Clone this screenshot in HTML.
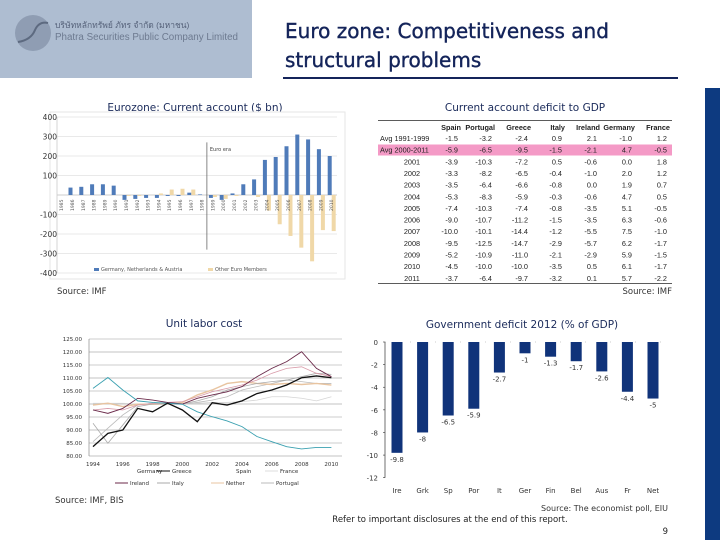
<!DOCTYPE html>
<html><head><meta charset="utf-8">
<style>
body{margin:0;width:720px;height:540px;overflow:hidden;background:#fff;font-family:"DejaVu Sans","Liberation Sans","Noto Sans CJK SC",sans-serif;}
svg{position:absolute;left:0;top:0}
</style></head>
<body>
<svg id="s" width="720" height="540" xmlns="http://www.w3.org/2000/svg">
<rect x="0" y="0" width="252" height="78" fill="#aebdd1"/>
<circle cx="33" cy="33" r="18" fill="#8f9db3"/>
<path d="M18 42 Q31 40 35 30 Q39 21 48 23" stroke="#5d6a80" stroke-width="2" fill="none"/>
<text x="55" y="28" font-size="8.5" fill="#56627a" font-family="Liberation Sans, Noto Sans CJK SC, sans-serif">บริษัทหลักทรัพย์ ภัทร จำกัด (มหาชน)</text>
<text x="55" y="40" font-size="9.8" fill="#6d7a90" font-family="Liberation Sans, sans-serif">Phatra Securities Public Company Limited</text>
<text x="285" y="38" font-size="20" fill="#14245a" stroke="#14245a" stroke-width="0.4">Euro zone: Competitiveness and</text>
<text x="285" y="67" font-size="20" fill="#14245a" stroke="#14245a" stroke-width="0.4">structural problems</text>
<rect x="283" y="77" width="395" height="2" fill="#14245a"/>
<rect x="705" y="88" width="15" height="452" fill="#0d3a80"/>

<text x="195" y="111" font-size="10.5" fill="#1a2a5a" text-anchor="middle">Eurozone: Current account ($ bn)</text>
<g id="ca"></g>
<text x="57" y="294" font-size="8.5" fill="#333">Source: IMF</text>

<text x="525" y="111" font-size="10.5" fill="#1a2a5a" text-anchor="middle">Current account deficit to GDP</text>
<g id="tbl"></g>
<text x="672" y="294" font-size="8.5" fill="#333" text-anchor="end">Source: IMF</text>

<text x="204" y="327" font-size="10.5" fill="#1a2a5a" text-anchor="middle">Unit labor cost</text>
<g id="ulc"></g>
<text x="55" y="503" font-size="8.5" fill="#333">Source: IMF, BIS</text>

<text x="522" y="328" font-size="10.5" fill="#1a2a5a" text-anchor="middle">Government deficit 2012 (% of GDP)</text>
<g id="gd"></g>
<text x="668" y="511" font-size="8" fill="#333" text-anchor="end">Source: The economist poll, EIU</text>
<text x="450" y="522" font-size="8.5" fill="#222" text-anchor="middle">Refer to important disclosures at the end of this report.</text>
<text x="668" y="534" font-size="8.5" fill="#222" text-anchor="end">9</text>
</svg>
<script>
const NS="http://www.w3.org/2000/svg";
function mk(p,t,a){const e=document.createElementNS(NS,t);for(const k in a)e.setAttribute(k,a[k]);p.appendChild(e);return e;}

// ---- Current account chart data
const caYears=[1985,1986,1987,1988,1989,1990,1991,1992,1993,1994,1995,1996,1997,1998,1999,2000,2001,2002,2003,2004,2005,2006,2007,2008,2009,2010];
const caCore=[0,38,42,55,55,48,-25,-20,-15,-15,-5,-5,12,3,-15,-25,8,55,80,180,195,250,310,285,235,200];
const caOther=[0,0,0,0,0,0,-5,-5,0,8,28,32,28,0,-10,-20,-5,0,-10,-80,-150,-210,-270,-340,-180,-185];
const caTicks=[400,300,200,100,-100,-200,-300,-400];

// ---- Table data
const tblCols=["Spain","Portugal","Greece","Italy","Ireland","Germany","France"];
const tblRows=["Avg 1991-1999","Avg 2000-2011","2001","2002","2003","2004","2005","2006","2007","2008","2009","2010","2011"];
const tblVals=[
["-1.5","-3.2","-2.4","0.9","2.1","-1.0","1.2"],
["-5.9","-6.5","-9.5","-1.5","-2.1","4.7","-0.5"],
["-3.9","-10.3","-7.2","0.5","-0.6","0.0","1.8"],
["-3.3","-8.2","-6.5","-0.4","-1.0","2.0","1.2"],
["-3.5","-6.4","-6.6","-0.8","0.0","1.9","0.7"],
["-5.3","-8.3","-5.9","-0.3","-0.6","4.7","0.5"],
["-7.4","-10.3","-7.4","-0.8","-3.5","5.1","-0.5"],
["-9.0","-10.7","-11.2","-1.5","-3.5","6.3","-0.6"],
["-10.0","-10.1","-14.4","-1.2","-5.5","7.5","-1.0"],
["-9.5","-12.5","-14.7","-2.9","-5.7","6.2","-1.7"],
["-5.2","-10.9","-11.0","-2.1","-2.9","5.9","-1.5"],
["-4.5","-10.0","-10.0","-3.5","0.5","6.1","-1.7"],
["-3.7","-6.4","-9.7","-3.2","0.1","5.7","-2.2"]];

// ---- Unit labor cost data (1994-2010)
const ulcYears=[1994,1995,1996,1997,1998,1999,2000,2001,2002,2003,2004,2005,2006,2007,2008,2009,2010];
const ulcGermany=[106,110.2,105.4,101.2,100.6,100.3,99.9,97,95.1,93.5,91.3,87.5,85.5,83.6,82.7,83.3,83.3];
const ulcGreece=[83.6,88.7,90,98.3,97,100.3,97.7,93.2,100.5,99.6,101.2,104,105.4,107.3,110.1,110.8,110.1];
const ulcSpain=[97.7,98.3,97.7,99.6,100.3,100.6,100.9,102.8,104.7,106,107.3,109.2,111.8,113.7,114.3,111.8,110.5];
const ulcFrance=[100.3,100.3,100.3,99.9,100,99.9,99.9,100.3,100.6,100.6,100.9,101.5,102.8,102.8,102.2,101.2,102.8];
const ulcIreland=[97.7,96.4,98.3,102.2,101.5,100.6,100,102.2,103.5,104.7,106.7,110.5,113.7,116.3,120.1,113.7,110.5];
const ulcItaly=[92.6,84.9,91.9,99,100,100,100,101.2,102.8,105.4,106.7,107.9,108.6,109.2,110.5,111.8,111.4];
const ulcNether=[99.6,100.3,99,99.9,99.9,100.1,100.6,103.5,105.4,107.9,108.6,107.9,107.5,107.9,107.5,107.9,107.3];
const ulcPortugal=[85.5,90.7,95.8,99.6,100.3,100.1,99.9,100.6,101.5,102.8,105.4,106.7,107.9,109.2,108.6,107.9,107.9];
const ulcTicks=[125,120,115,110,105,100,95,90,85,80];
const ulcXTicks=[1994,1996,1998,2000,2002,2004,2006,2008,2010];

// ---- Government deficit data
const gdCats=["Ire","Grk","Sp","Por","It","Ger","Fin","Bel","Aus","Fr","Net"];
const gdVals=[-9.8,-8,-6.5,-5.9,-2.7,-1,-1.3,-1.7,-2.6,-4.4,-5];
const gdTicks=[0,-2,-4,-6,-8,-10,-12];

// ===== Current account chart
(function(){
 const g=document.getElementById('ca');
 const y=v=>195-v*(156/800);
 const x=i=>61.7+i*10.8;
 mk(g,'rect',{x:50,y:112,width:295,height:167,fill:'none',stroke:'#e6e6e6'});
 caTicks.forEach(t=>{
  const l=mk(g,'line',{x1:57,x2:337,y1:y(t),y2:y(t),stroke:'#e2e2e2','stroke-width':0.8});
  
  
  const tx=mk(g,'text',{x:57,y:y(t)+3,'font-size':7.5,fill:'#333','text-anchor':'end'});tx.textContent=t;
  
  
 });
 mk(g,'line',{x1:57,x2:337,y1:y(0),y2:y(0),stroke:'#bbb','stroke-width':0.8});
 mk(g,'line',{x1:57,x2:57,y1:y(400),y2:y(-400),stroke:'#ccc','stroke-width':0.8});
 caYears.forEach((yr,i)=>{
  const b1=caCore[i],b2=caOther[i];
  const r1=mk(g,'rect',{x:x(i)-4,y:Math.min(y(0),y(b1)),width:4,height:Math.abs(y(b1)-y(0)),fill:'#4f7bb9'});
  
  
  const r2=mk(g,'rect',{x:x(i),y:Math.min(y(0),y(b2)),width:4,height:Math.abs(y(b2)-y(0)),fill:'#f0d8a8'});
  
  
  const t=mk(g,'text',{x:0,y:0,'font-size':4.5,fill:'#555',transform:`translate(${x(i)+1.5},${y(0)+16}) rotate(-90)`});t.textContent=yr;
  
  
 });
 mk(g,'line',{x1:x(14)-6,x2:x(14)-6,y1:y(270),y2:y(-280),stroke:'#555','stroke-width':0.7});
 const ea=mk(g,'text',{x:x(14)-3,y:y(225),'font-size':5,fill:'#444'});ea.textContent='Euro era';
 
 
 mk(g,'rect',{x:94,y:268,width:5,height:3,fill:'#4f7bb9'});
 const l1=mk(g,'text',{x:101,y:271,'font-size':5,fill:'#555'});l1.textContent='Germany, Netherlands & Austria';
 
 
 mk(g,'rect',{x:208,y:268,width:5,height:3,fill:'#f0d8a8'});
 const l2=mk(g,'text',{x:215,y:271,'font-size':5,fill:'#555'});l2.textContent='Other Euro Members';
 
 
})();

// ===== Table
(function(){
 const g=document.getElementById('tbl');
 const colR=[461,495,531,565,600,635,670];
 const rowY=i=>141+i*11.65;
 const F='Liberation Sans, sans-serif';
 mk(g,'rect',{x:378,y:120,width:294,height:0.8,fill:'#333'});
 mk(g,'rect',{x:378,y:283,width:294,height:0.8,fill:'#333'});
 mk(g,'rect',{x:378,y:144.5,width:294,height:11,fill:'#f49ac6'});
 tblCols.forEach((c,j)=>{const t=mk(g,'text',{x:colR[j],y:130,'font-size':7.3,'font-weight':'bold',fill:'#222','text-anchor':'end','font-family':F});t.textContent=c;
  
  });
 tblRows.forEach((r,i)=>{
  const t=mk(g,'text',{x:i<2?380:412,y:rowY(i),'font-size':7.3,fill:'#222','text-anchor':i<2?'start':'middle','font-family':F});t.textContent=r;
  
  
  tblVals[i].forEach((v,j)=>{const c=mk(g,'text',{x:colR[j]-3,y:rowY(i),'font-size':7.3,fill:'#222','text-anchor':'end','font-family':F});c.textContent=v;
   
   });
 });
})();

// ===== Unit labor cost
(function(){
 const g=document.getElementById('ulc');
 const y=v=>(315+267/3)-(v-100)*(13/5);
 const x=yr=>93+(yr-1994)*14.9;
 ulcTicks.forEach(t=>{
  const l=mk(g,'line',{x1:89,x2:342,y1:y(t),y2:y(t),stroke:t%10===0?'#888':'#999','stroke-width':0.6});
  
  
  const tx=mk(g,'text',{x:82,y:y(t)+2,'font-size':5.5,fill:'#333','text-anchor':'end'});tx.textContent=t.toFixed(2);
  
  
 });
 mk(g,'line',{x1:89,x2:89,y1:y(125),y2:y(80),stroke:'#777','stroke-width':0.6});
 ulcXTicks.forEach(t=>{const tx=mk(g,'text',{x:x(t),y:y(80)+10,'font-size':5.5,fill:'#333','text-anchor':'middle'});tx.textContent=t;
  
  });
 const series=[
  ['france',ulcFrance,'#d5d5d5',0.8],['portugal',ulcPortugal,'#bbbbbb',0.8],['nether',ulcNether,'#e8c4a0',1.4],
  ['italy',ulcItaly,'#aaaaaa',0.8],['spain',ulcSpain,'#d89aa8',0.8],['ireland',ulcIreland,'#6b2a4a',0.9],
  ['germany',ulcGermany,'#3aa0b0',0.9],['greece',ulcGreece,'#111111',1.3]];
 series.forEach(s=>{
  const p=mk(g,'polyline',{points:s[1].map((v,i)=>x(ulcYears[i])+','+y(v)).join(' '),fill:'none',stroke:s[2],'stroke-width':s[3]});
  
  
 });
 const leg=[['Germany',null,137,473],['Greece','#111',172,473],['Spain',null,236,473],['France','#ddd',280,473],
  ['Ireland','#6b2a4a',130,485],['Italy','#aaa',172,485],['Nether','#e8c4a0',226,485],['Portugal','#bbb',276,485]];
 leg.forEach(l=>{
  if(l[1]) mk(g,'line',{x1:l[2]-15,x2:l[2]-2,y1:l[3]-2,y2:l[3]-2,stroke:l[1],'stroke-width':1});
  const t=mk(g,'text',{x:l[2],y:l[3],'font-size':5.5,fill:'#333'});t.textContent=l[0];
  
  
 });
})();

// ===== Government deficit
(function(){
 const g=document.getElementById('gd');
 const y=v=>342-v*(135.7/12);
 const x=i=>397+i*25.6;
 mk(g,'line',{x1:385,x2:385,y1:y(0),y2:y(-12),stroke:'#333','stroke-width':0.7});
 mk(g,'line',{x1:385,x2:666,y1:y(0),y2:y(0),stroke:'#999','stroke-width':0.5,'stroke-dasharray':'1 24'});
 gdTicks.forEach(t=>{
  const tx=mk(g,'text',{x:378,y:y(t)+3,'font-size':7,fill:'#333','text-anchor':'end'});tx.textContent=t;
  
  
  mk(g,'line',{x1:383,x2:385,y1:y(t),y2:y(t),stroke:'#333','stroke-width':0.6});
 });
 gdCats.forEach((c,i)=>{
  const v=gdVals[i];
  const r=mk(g,'rect',{x:x(i)-5.5,y:y(0),width:11,height:y(v)-y(0),fill:'#10337a'});
  
  
  const vl=mk(g,'text',{x:x(i),y:y(v)+9,'font-size':7,fill:'#333','text-anchor':'middle'});vl.textContent=v;
  
  
  const cl=mk(g,'text',{x:x(i),y:493,'font-size':7,fill:'#333','text-anchor':'middle'});cl.textContent=c;
  
  
 });
})();
</script>
</body></html>
